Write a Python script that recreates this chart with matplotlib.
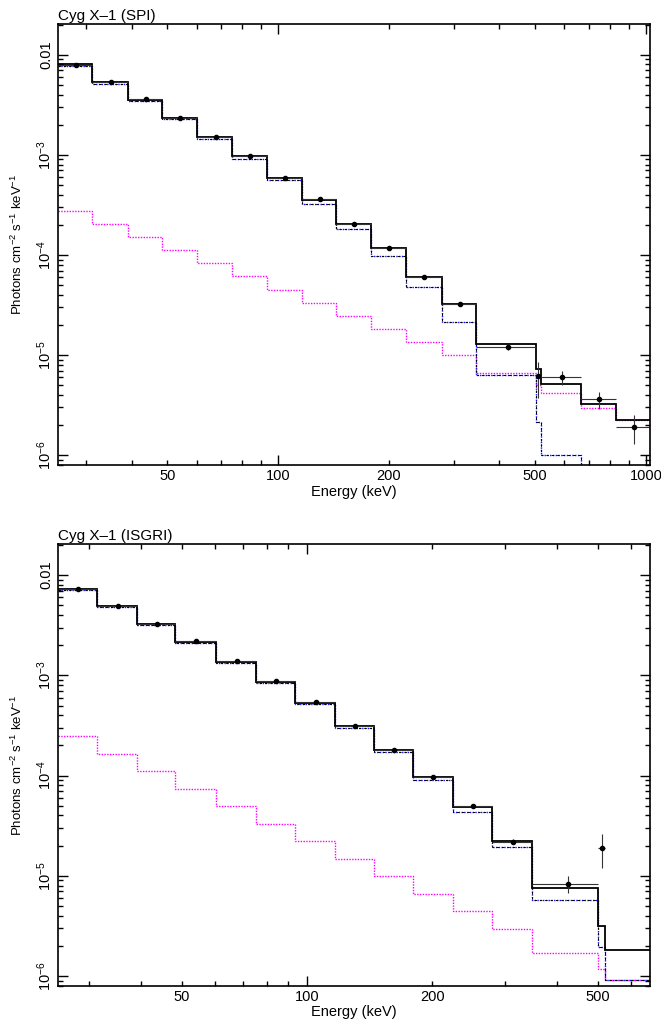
import numpy as np
import matplotlib
matplotlib.use('Agg')
import matplotlib.pyplot as plt
from matplotlib.ticker import FixedLocator, FuncFormatter, LogLocator, NullFormatter

plt.rcParams['font.family'] = ['Liberation Sans', 'DejaVu Sans']
plt.rcParams['mathtext.fontset'] = 'custom'
plt.rcParams['mathtext.rm'] = 'Liberation Sans'
plt.rcParams['mathtext.default'] = 'regular'

# ---- SPI spectrum (keV, photons cm-2 s-1 keV-1) ----
spi_edges = [25.2, 31.2, 39.0, 48.4, 60.3, 75.0, 93.3, 116, 144, 179, 223, 279, 345,
             502, 519, 665, 828, 1025]
spi_energy = [28.2, 35.2, 43.6, 54.2, 67.8, 84.1, 104.5, 130, 161, 200, 250, 312, 423,
              509, 591, 745, 927]
spi_flux = [7.89e-3, 5.3e-3, 3.59e-3, 2.36e-3, 1.51e-3, 9.7e-4, 5.94e-4, 3.62e-4, 2.04e-4,
            1.18e-4, 5.98e-5, 3.25e-5, 1.2e-5, 6.12e-6, 5.98e-6, 3.61e-6, 1.90e-6]
spi_err = [1.2e-4, 7e-5, 4e-5, 2.5e-5, 1.6e-5, 1.1e-5, 7e-6, 4.5e-6, 3e-6,
           2e-6, 1.4e-6, 1.0e-6, 8e-7, 2.4e-6, 9e-7, 7e-7, 6e-7]
spi_model = [8.02e-3, 5.31e-3, 3.56e-3, 2.36e-3, 1.52e-3, 9.7e-4, 5.94e-4, 3.58e-4, 2.06e-4,
             1.17e-4, 6.08e-5, 3.22e-5, 1.30e-5, 7.2e-6, 5.1e-6, 3.22e-6, 2.25e-6]
spi_comp = [7.66e-3, 5.1e-3, 3.45e-3, 2.27e-3, 1.43e-3, 9.06e-4, 5.55e-4, 3.25e-4, 1.82e-4,
            9.68e-5, 4.75e-5, 2.13e-5, 6.3e-6, 2.15e-6, 1.0e-6, 2e-7, 5e-8]
spi_pl = [2.77e-4, 2.04e-4, 1.51e-4, 1.13e-4, 8.26e-5, 6.12e-5, 4.48e-5, 3.35e-5, 2.48e-5,
          1.83e-5, 1.36e-5, 1.0e-5, 6.67e-6, 5.0e-6, 4.15e-6, 2.98e-6, 2.25e-6]

# ---- ISGRI spectrum ----
isg_edges = [25.2, 31.3, 39.0, 48.3, 60.3, 75.5, 93.4, 116.6, 144.6, 180, 224, 279, 347,
             502, 520, 700]
isg_energy = [28.1, 35.1, 43.6, 54.2, 67.8, 84.2, 105, 130.5, 162, 201, 251, 313, 425, 512]
isg_flux = [7.25e-3, 4.9e-3, 3.29e-3, 2.18e-3, 1.38e-3, 8.73e-4, 5.39e-4, 3.12e-4, 1.80e-4,
            9.66e-5, 4.92e-5, 2.19e-5, 8.3e-6, 1.9e-5]
isg_err = [8e-5, 5e-5, 3e-5, 2e-5, 1.3e-5, 8e-6, 5e-6, 3.5e-6, 2.2e-6,
           1.4e-6, 1.0e-6, 1.2e-6, 1.55e-6, 7e-6]
isg_model = [7.2e-3, 4.9e-3, 3.29e-3, 2.16e-3, 1.37e-3, 8.67e-4, 5.35e-4, 3.12e-4, 1.80e-4,
             9.6e-5, 4.81e-5, 2.25e-5, 7.58e-6, 3.13e-6, 1.8e-6]
isg_comp = [7.03e-3, 4.79e-3, 3.21e-3, 2.11e-3, 1.34e-3, 8.4e-4, 5.14e-4, 3.01e-4, 1.71e-4,
            9.0e-5, 4.38e-5, 1.96e-5, 5.75e-6, 1.94e-6, 9.1e-7]
isg_pl = [2.48e-4, 1.66e-4, 1.11e-4, 7.4e-5, 4.92e-5, 3.3e-5, 2.22e-5, 1.48e-5, 9.9e-6,
          6.6e-6, 4.43e-6, 2.95e-6, 1.71e-6, 1.17e-6, 9.1e-7]


def yfmt(v, pos):
    if abs(v - 0.01) < 1e-6:
        return '0.01'
    return '10$^{%d}$' % int(round(np.log10(v)))


def xminor_fmt(v, pos):
    return '%d' % v if int(round(v)) in (50, 200, 500) else ''


def draw_panel(ax, title, edges, energy, flux, err, model, comp, pl, xmax):
    n = len(energy)
    e = np.array(edges)
    x = np.array(energy)
    xerr = [x - e[:n], e[1:n + 1] - x]

    ax.stairs(pl, edges, baseline=None, color='#ff00ff', lw=1.0, ls=(0, (1, 1)))
    ax.stairs(comp, edges, baseline=None, color='#1010ff', lw=1.0, ls=(0, (1, 1)))
    ax.stairs(comp, edges, baseline=None, color='black', lw=0.7, ls=(0, (2.5, 3)))
    ax.stairs(model, edges, baseline=None, color='black', lw=1.3)
    ax.errorbar(x, flux, xerr=xerr, yerr=err, fmt='o', ms=3, color='black',
                ecolor='#333333', elinewidth=0.8, capsize=0)

    ax.set_xscale('log')
    ax.set_yscale('log')
    ax.set_xlim(25.2, xmax)
    ax.set_ylim(8.0e-7, 0.0203)

    ax.xaxis.set_major_locator(FixedLocator([100, 1000]))
    ax.xaxis.set_major_formatter(FuncFormatter(lambda v, p: '%d' % v))
    ax.xaxis.set_minor_locator(FixedLocator([30, 40, 50, 60, 70, 80, 90,
                                             200, 300, 400, 500, 600, 700, 800, 900]))
    ax.xaxis.set_minor_formatter(FuncFormatter(xminor_fmt))
    ax.yaxis.set_major_locator(LogLocator(base=10))
    ax.yaxis.set_major_formatter(FuncFormatter(yfmt))
    ax.yaxis.set_minor_locator(LogLocator(base=10, subs=np.arange(2, 10)))
    ax.yaxis.set_minor_formatter(NullFormatter())

    ax.tick_params(which='both', direction='in', top=True, right=True,
                   labelsize=10.5, width=1.0, pad=3)
    ax.tick_params(which='major', length=7)
    ax.tick_params(which='minor', length=3.5)
    ax.tick_params(axis='y', which='major', labelrotation=90)
    for lab in ax.get_yticklabels():
        lab.set_va('center')

    for sp in ax.spines.values():
        sp.set_linewidth(1.2)

    ax.set_xlabel('Energy (keV)', fontsize=10.5, labelpad=1)
    ax.set_ylabel('Photons cm$^{-2}$ s$^{-1}$ keV$^{-1}$', fontsize=9.5, labelpad=7)
    ax.set_title(title, loc='left', fontsize=11, pad=3)


fig = plt.figure(figsize=(6.61, 10.28), dpi=100)
fig.patch.set_facecolor('white')
ax1 = fig.add_axes([0.0877, 0.5477, 0.8953, 0.4290])
ax2 = fig.add_axes([0.0877, 0.0411, 0.8953, 0.4294])

draw_panel(ax1, 'Cyg X\u20131 (SPI)', spi_edges, spi_energy, spi_flux, spi_err,
           spi_model, spi_comp, spi_pl, 1025)
draw_panel(ax2, 'Cyg X\u20131 (ISGRI)', isg_edges, isg_energy, isg_flux, isg_err,
           isg_model, isg_comp, isg_pl, 667)

fig.savefig('out.png', dpi=100, facecolor='white')
